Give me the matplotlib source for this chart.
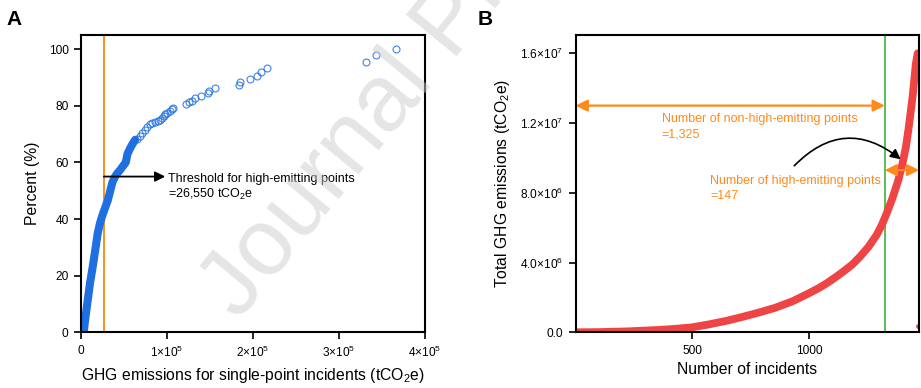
import matplotlib
matplotlib.use("Agg")
import matplotlib.pyplot as plt
from matplotlib.ticker import FixedLocator

plt.rcParams['font.family'] = ['Liberation Sans', 'DejaVu Sans']
plt.rcParams['mathtext.fontset'] = 'custom'
plt.rcParams['mathtext.rm'] = 'Liberation Sans'
plt.rcParams['mathtext.it'] = 'Liberation Sans:italic'
plt.rcParams['mathtext.bf'] = 'Liberation Sans:bold'

# Panel A: cumulative share of emissions vs single-incident emissions
dense_x = [3.1e3, 5.0e3, 7.8e3, 10.5e3, 13.6e3, 16.5e3, 19.4e3, 22e3, 24.5e3,
           28e3, 31e3, 34e3, 36.5e3, 39.6e3, 42.5e3, 45.4e3, 48.5e3, 52e3,
           54e3, 57.1e3, 60e3, 63e3]
dense_pct = [0, 5, 11.4, 17.5, 23.2, 29, 35, 38.5, 41, 44, 46.5, 50, 53, 55,
             56.3, 57.3, 58.6, 60, 63, 65, 66.6, 68]
sparse_x = [65e3, 68e3, 71e3, 74e3, 77e3, 80e3, 83e3, 86e3, 89e3, 92e3, 94e3,
            96e3, 98e3, 100e3, 104e3, 106e3, 107.5e3, 122e3, 126e3, 129e3,
            133e3, 139e3, 148e3, 149e3, 156e3, 184e3, 185e3, 197e3, 205e3,
            209e3, 216e3, 331e3, 343e3, 366e3]
sparse_pct = [68.3, 69.2, 70.5, 71.6, 72.5, 73.4, 73.8, 74.2, 74.6, 75.1, 75.8,
              76.5, 77.0, 77.5, 78.3, 78.8, 79.3, 80.5, 81.2, 81.8, 82.6, 83.4,
              84.6, 85.3, 86.2, 87.4, 88.3, 89.6, 90.6, 92.0, 93.5, 95.6, 97.8,
              99.9]
threshold = 26550

# Panel B: cumulative total emissions by number of incidents
n_incidents = [0, 100, 220, 350, 420, 497, 570, 647, 720, 790, 854, 930, 1000,
               1040, 1076, 1110, 1147, 1185, 1219, 1255, 1290, 1312, 1333, 1358,
               1383, 1401, 1415, 1426, 1444, 1458, 1466]
total_ghg = [0, 0.01e6, 0.05e6, 0.13e6, 0.19e6, 0.28e6, 0.45e6, 0.66e6, 0.9e6,
             1.15e6, 1.4e6, 1.78e6, 2.24e6, 2.52e6, 2.81e6, 3.12e6, 3.48e6,
             3.88e6, 4.34e6, 4.9e6, 5.58e6, 6.15e6, 6.82e6, 7.7e6, 8.73e6,
             9.69e6, 10.6e6, 11.6e6, 13.5e6, 15.4e6, 16.0e6]
stray_n = [1466]
stray_ghg = [0.36e6]
n_non_high = 1325
n_high = 147

a_xticks = [0, 1e5, 2e5, 3e5, 4e5]
a_xlabels = ['0', r'1×10$^{5}$', r'2×10$^{5}$', r'3×10$^{5}$', r'4×10$^{5}$']
a_yticks = [0, 20, 40, 60, 80, 100]
b_xticks = [500, 1000]
b_yticks = [0, 4e6, 8e6, 1.2e7, 1.6e7]
b_ylabels = ['0.0', r'4.0×10$^{6}$', r'8.0×10$^{6}$', r'1.2×10$^{7}$', r'1.6×10$^{7}$']

BLUE = '#1f6fe0'
ORANGE = '#ff8a1c'
RED = '#ef4444'
GREEN = '#4cb84c'

fig = plt.figure(figsize=(9.21, 3.88), dpi=100)
ax1 = fig.add_axes([0.0880, 0.1436, 0.3735, 0.7662])
ax2 = fig.add_axes([0.6250, 0.1436, 0.3732, 0.7662])

for ax in (ax1, ax2):
    for sp in ax.spines.values():
        sp.set_linewidth(1.5)
    ax.tick_params(direction='out', length=5, width=1.2, labelsize=8.6, pad=4)

# ---- A ----
ax1.axvline(threshold, color='#f7931e', lw=1.4, zorder=1)
ax1.plot(dense_x, dense_pct, color=BLUE, lw=5.8, solid_capstyle='round',
         solid_joinstyle='round', zorder=2)
ax1.plot(sparse_x, sparse_pct, 'o', ms=5, mfc='none', mec=BLUE, mew=0.8,
         alpha=0.85, zorder=3)
ax1.annotate('', xy=(97.9e3, 55), xytext=(threshold, 55),
             arrowprops=dict(arrowstyle='-|>,head_length=0.6,head_width=0.3',
                             color='black', lw=1.3, shrinkA=0, shrinkB=0))
ax1.text(101e3, 56.4, 'Threshold for high-emitting points\n=26,550 tCO$_2$e',
         fontsize=9, va='top', ha='left', linespacing=1.25)
ax1.set_xlim(0, 4e5)
ax1.set_ylim(0, 105)
ax1.xaxis.set_major_locator(FixedLocator(a_xticks))
ax1.set_xticklabels(a_xlabels)
ax1.set_yticks(a_yticks)
ax1.set_xlabel('GHG emissions for single-point incidents (tCO$_2$e)',
               fontsize=11.3, labelpad=4)
ax1.set_ylabel('Percent (%)', fontsize=11.3, labelpad=6)

# ---- B ----
ax2.axvline(n_non_high, color=GREEN, lw=1.3, zorder=1)
ax2.plot(n_incidents, total_ghg, color=RED, lw=5.6, solid_capstyle='round',
         solid_joinstyle='round', zorder=2)
ax2.plot(stray_n, stray_ghg, 'o', ms=2.5, color=RED, zorder=2)
ax2.annotate('', xy=(0, 1.3e7), xytext=(n_non_high, 1.3e7),
             arrowprops=dict(arrowstyle='<|-|>,head_length=0.7,head_width=0.35',
                             color=ORANGE, lw=1.6, shrinkA=0, shrinkB=0))
ax2.annotate('', xy=(n_non_high, 9.3e6), xytext=(n_non_high + n_high, 9.3e6),
             arrowprops=dict(arrowstyle='<|-|>,head_length=0.7,head_width=0.35',
                             color=ORANGE, lw=1.6, shrinkA=0, shrinkB=0))
ax2.annotate('', xy=(1393, 9.92e6), xytext=(937, 9.55e6),
             arrowprops=dict(arrowstyle='-|>,head_length=0.6,head_width=0.3',
                             color='black', lw=1.2, shrinkA=0, shrinkB=0,
                             connectionstyle='arc3,rad=-0.45'))
ax2.text(369, 1.255e7, 'Number of non-high-emitting points\n=1,325',
         fontsize=9, color=ORANGE, va='top', ha='left', linespacing=1.3)
ax2.text(576, 9.0e6, 'Number of high-emitting points\n=147',
         fontsize=9, color=ORANGE, va='top', ha='left', linespacing=1.3)
ax2.set_xlim(0, 1473)
ax2.set_ylim(0, 1.705e7)
ax2.set_xticks(b_xticks)
ax2.yaxis.set_major_locator(FixedLocator(b_yticks))
ax2.set_yticklabels(b_ylabels)
ax2.set_xlabel('Number of incidents', fontsize=11.3, labelpad=4)
ax2.set_ylabel('Total GHG emissions (tCO$_2$e)', fontsize=11.3, labelpad=6)

fig.text(0.007, 0.935, 'A', fontsize=15, fontweight='bold')
fig.text(0.519, 0.935, 'B', fontsize=15, fontweight='bold')

# watermark
fig.text(0.49, 0.94, 'Journal Pre-proof', fontsize=68, color='#cccccc',
         alpha=0.5, rotation=50.6, ha='center', va='center', zorder=10,
         rotation_mode='anchor')

fig.savefig('out.png', dpi=100)
